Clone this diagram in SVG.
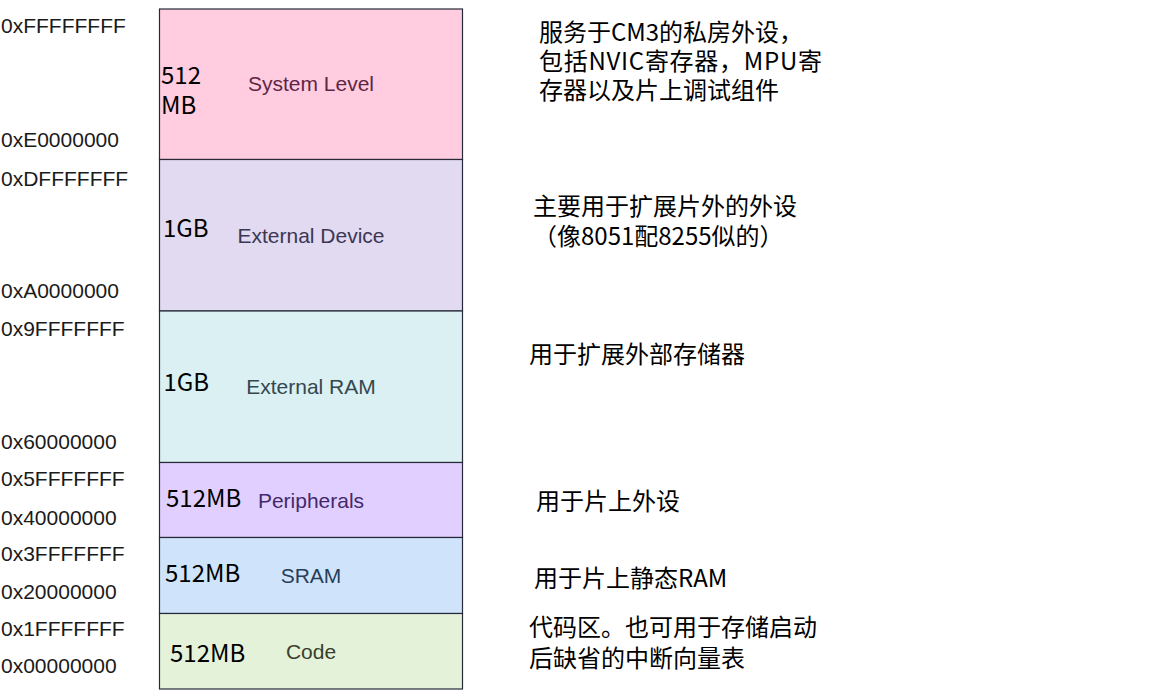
<svg xmlns="http://www.w3.org/2000/svg" width="1152" height="696" viewBox="0 0 1152 696">
  <style>
    .addr { font-family: "Liberation Sans", Arial, sans-serif; font-size: 21px; fill: #1a1a1a; }
    .region { stroke: #262a38; stroke-width: 1.2; }
    .size { font-family: "Noto Sans CJK SC", "Noto Sans", sans-serif; font-size: 24px; fill: #000000; }
    .name { font-family: "Liberation Sans", Arial, sans-serif; font-size: 21px; text-anchor: middle; }
    .note { font-family: "Noto Sans CJK SC", "Noto Sans", sans-serif; font-size: 24px; fill: #000000; }
  </style>

  <!-- address boundaries -->
  <g id="addresses">
    <text class="addr" x="1" y="33">0xFFFFFFFF</text>
    <text class="addr" x="1" y="146.5">0xE0000000</text>
    <text class="addr" x="1" y="186">0xDFFFFFFF</text>
    <text class="addr" x="1" y="297.5">0xA0000000</text>
    <text class="addr" x="1" y="335.5">0x9FFFFFFF</text>
    <text class="addr" x="1" y="448.5">0x60000000</text>
    <text class="addr" x="1" y="486">0x5FFFFFFF</text>
    <text class="addr" x="1" y="525">0x40000000</text>
    <text class="addr" x="1" y="561">0x3FFFFFFF</text>
    <text class="addr" x="1" y="598.5">0x20000000</text>
    <text class="addr" x="1" y="636">0x1FFFFFFF</text>
    <text class="addr" x="1" y="673">0x00000000</text>
  </g>

  <!-- memory regions -->
  <g id="system-level">
    <rect class="region" x="159.5" y="9" width="303" height="150.5" fill="#ffcce0"/>
    <text class="size" x="161" y="84">512</text>
    <text class="size" x="161" y="114">MB</text>
    <text class="name" x="311" y="91" fill="#5e2645">System Level</text>
  </g>
  <g id="external-device">
    <rect class="region" x="159.5" y="159.5" width="303" height="151.5" fill="#e1daf0"/>
    <text class="size" x="163" y="236.5">1GB</text>
    <text class="name" x="311" y="242.5" fill="#3c3654">External Device</text>
  </g>
  <g id="external-ram">
    <rect class="region" x="159.5" y="311" width="303" height="151.5" fill="#daf0f2"/>
    <text class="size" x="163.5" y="390.5">1GB</text>
    <text class="name" x="311" y="394" fill="#35474f">External RAM</text>
  </g>
  <g id="peripherals">
    <rect class="region" x="159.5" y="462.5" width="303" height="75" fill="#e1d0ff"/>
    <text class="size" x="166" y="507">512MB</text>
    <text class="name" x="311" y="507.5" fill="#45286b">Peripherals</text>
  </g>
  <g id="sram">
    <rect class="region" x="159.5" y="537.5" width="303" height="76" fill="#cfe4fb"/>
    <text class="size" x="165" y="582">512MB</text>
    <text class="name" x="311" y="583" fill="#273e5a">SRAM</text>
  </g>
  <g id="code">
    <rect class="region" x="159.5" y="613.5" width="303" height="75.5" fill="#e5f2da"/>
    <text class="size" x="170" y="662">512MB</text>
    <text class="name" x="311" y="659" fill="#38402c">Code</text>
  </g>

  <!-- region descriptions -->
  <g id="notes">
    <text class="note" x="539" y="41">服务于CM3的私房外设，</text>
    <text class="note" x="539" y="70" textLength="283" lengthAdjust="spacing">包括NVIC寄存器，MPU寄</text>
    <text class="note" x="539" y="99">存器以及片上调试组件</text>
    <text class="note" x="533" y="215">主要用于扩展片外的外设</text>
    <text class="note" x="533" y="245">（像8051配8255似的）</text>
    <text class="note" x="529" y="363">用于扩展外部存储器</text>
    <text class="note" x="536" y="510">用于片上外设</text>
    <text class="note" x="534" y="586.5">用于片上静态RAM</text>
    <text class="note" x="529" y="636">代码区。也可用于存储启动</text>
    <text class="note" x="529" y="667">后缺省的中断向量表</text>
  </g>
</svg>
